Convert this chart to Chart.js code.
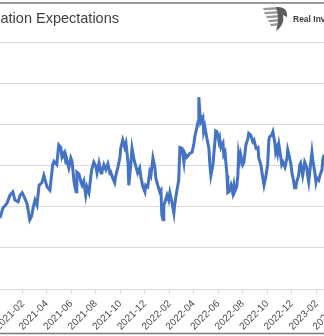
<!DOCTYPE html>
<html>
<head>
<meta charset="utf-8">
<script src="https://cdn.jsdelivr.net/npm/chart.js@4.4.1/dist/chart.umd.min.js"></script>
<style>
  html, body { margin: 0; padding: 0; background: #fff; }
  canvas { display: block; }
</style>
</head>
<body>
<canvas id="chart" width="324" height="336"></canvas>
<script>
// days counted from 2021-01-01
const baseDate = Date.UTC(2021, 0, 1);

const dayOffsets = [
  -26, -19, -9, -1, 6, 11, 19, 24, 29, 33,
  41, 48, 53, 56, 61, 66, 71, 78, 83, 91,
  98, 105, 108, 115, 120, 125, 128, 133, 138, 140,
  145, 150, 153, 158, 163, 165, 170, 175, 178, 182,
  187, 190, 195, 200, 202, 207, 212, 215, 220, 225,
  227, 232, 237, 242, 247, 249, 254, 259, 262, 267,
  272, 274, 279, 284, 287, 292, 294, 299, 302, 307,
  312, 316, 321, 324, 329, 334, 336, 341, 346, 349,
  354, 359, 361, 366, 371, 374, 376, 379, 381, 384,
  389, 393, 396, 401, 406, 408, 413, 418, 421, 426,
  431, 433, 438, 443, 446, 451, 456, 458, 463, 466,
  468, 471, 473, 478, 480, 483, 488, 493, 495, 498,
  503, 508, 510, 513, 518, 520, 523, 528, 530, 533,
  538, 540, 543, 548, 552, 555, 557, 562, 565, 567,
  570, 572, 577, 580, 585, 590, 592, 597, 602, 605,
  610, 615, 617, 622, 627, 630, 634, 639, 642, 644,
  649, 652, 657, 659, 662, 664, 667, 672, 674, 677,
  682, 687, 689, 692, 697, 699, 702, 706, 709, 711,
  716, 719, 721, 726, 729, 731, 736, 739, 741, 746,
  749, 751, 756, 759, 761, 766, 769, 774, 776, 779
];

const expectations = [
  1.86, 1.98, 2.04, 2.14, 2.18, 2.08, 2.06, 2.14, 2.17, 2.13,
  2.04, 1.84, 1.89, 1.98, 2.08, 2.02, 2.26, 2.29, 2.38, 2.24,
  2.20, 2.51, 2.55, 2.51, 2.75, 2.72, 2.60, 2.65, 2.53, 2.57,
  2.47, 2.59, 2.55, 2.30, 2.18, 2.42, 2.40, 2.30, 2.26, 2.31,
  2.14, 2.24, 2.17, 2.38, 2.45, 2.54, 2.49, 2.41, 2.53, 2.41,
  2.42, 2.51, 2.45, 2.52, 2.41, 2.42, 2.35, 2.29, 2.38, 2.48,
  2.60, 2.71, 2.81, 2.72, 2.77, 2.54, 2.26, 2.51, 2.71, 2.57,
  2.48, 2.41, 2.47, 2.36, 2.24, 2.18, 2.26, 2.24, 2.42, 2.38,
  2.59, 2.47, 2.35, 2.26, 2.18, 2.20, 1.90, 1.84, 2.02, 2.06,
  2.14, 2.08, 2.17, 2.06, 1.92, 2.02, 2.18, 2.32, 2.72, 2.71,
  2.54, 2.65, 2.60, 2.63, 2.65, 2.66, 2.77, 2.85, 2.96, 3.03,
  3.33, 3.11, 3.03, 3.08, 2.91, 2.97, 2.83, 2.71, 2.54, 2.38,
  2.51, 2.79, 2.92, 2.91, 2.79, 2.83, 2.72, 2.77, 2.63, 2.66,
  2.38, 2.17, 2.18, 2.26, 2.17, 2.26, 2.18, 2.24, 2.38, 2.65,
  2.57, 2.63, 2.51, 2.54, 2.75, 2.83, 2.89, 2.87, 2.79, 2.81,
  2.71, 2.72, 2.59, 2.51, 2.35, 2.26, 2.35, 2.51, 2.81, 2.85,
  2.87, 2.91, 2.77, 2.66, 2.71, 2.65, 2.75, 2.59, 2.51, 2.54,
  2.48, 2.59, 2.69, 2.63, 2.51, 2.42, 2.35, 2.23, 2.23, 2.30,
  2.38, 2.51, 2.53, 2.38, 2.47, 2.54, 2.48, 2.36, 2.30, 2.53,
  2.66, 2.57, 2.42, 2.30, 2.35, 2.32, 2.38, 2.45, 2.57, 2.63
];

const tickLabels = [
  '2020-12', '2021-02', '2021-04', '2021-06', '2021-08', '2021-10', '2021-12',
  '2022-02', '2022-04', '2022-06', '2022-08', '2022-10', '2022-12', '2023-02', '2023-04'
];

const titleText = 'Inflation Expectations';
const brandText = 'Real Investment Advice';

function daysFrom(label) {
  const [y, m] = label.split('-').map(Number);
  return (Date.UTC(y, m - 1, 1) - baseDate) / 86400000;
}
const tickDays = tickLabels.map(daysFrom);

function drawLogo(ctx, x, y) {
  // small grey eagle mark
  ctx.fillStyle = '#9a9a9a';
  [[0, 2, 15], [1, 6, 16], [3, 10, 14], [5, 14, 11], [7, 18, 8]].forEach(([dx, dy, w]) => {
    ctx.beginPath();
    ctx.moveTo(x + dx, y + dy);
    ctx.lineTo(x + dx + w, y + dy - 1);
    ctx.lineTo(x + dx + w, y + dy + 1.5);
    ctx.lineTo(x + dx + 1, y + dy + 2.2);
    ctx.closePath();
    ctx.fill();
  });
  ctx.fillStyle = '#5c5c5c';
  ctx.beginPath();
  ctx.moveTo(x + 13, y + 1);
  ctx.quadraticCurveTo(x + 25, y, x + 24, y + 11);
  ctx.lineTo(x + 20, y + 9);
  ctx.quadraticCurveTo(x + 22, y + 19, x + 13, y + 25);
  ctx.quadraticCurveTo(x + 17, y + 13, x + 13, y + 1);
  ctx.fill();
}

const framePlugin = {
  id: 'frame',
  beforeDraw(chart) {
    const ctx = chart.ctx;
    ctx.save();
    ctx.fillStyle = '#fff';
    ctx.fillRect(0, 0, chart.width, chart.height);
    ctx.font = '14.5px "Liberation Sans", Arial, sans-serif';
    ctx.fillStyle = '#404040';
    const cut = ctx.measureText('Infl').width;
    ctx.fillText(titleText, 0.5 - cut, 22.5);
    drawLogo(ctx, 263, 6);
    ctx.font = 'bold 8.5px "Liberation Sans", Arial, sans-serif';
    ctx.fillStyle = '#3a3a3a';
    ctx.fillText(brandText, 293, 22);
    ctx.restore();
  },
  afterDraw(chart) {
    const ctx = chart.ctx;
    ctx.save();
    ctx.strokeStyle = '#7a7a7a';
    ctx.lineWidth = 1.5;
    ctx.beginPath();
    ctx.moveTo(0, 3);
    ctx.lineTo(chart.width, 3);
    ctx.moveTo(0, 333.5);
    ctx.lineTo(chart.width, 333.5);
    ctx.stroke();
    ctx.restore();
  }
};

new Chart(document.getElementById('chart'), {
  type: 'line',
  data: {
    datasets: [{
      label: titleText,
      data: dayOffsets.map((d, i) => ({ x: d, y: expectations[i] })),
      borderColor: '#4472C4',
      borderWidth: 3,
      pointRadius: 0,
      tension: 0
    }]
  },
  options: {
    responsive: false,
    animation: false,
    devicePixelRatio: 1,
    layout: { padding: { top: 42, left: 0, right: 0, bottom: 0 } },
    plugins: {
      legend: { display: false },
      tooltip: { enabled: false }
    },
    scales: {
      x: {
        type: 'linear',
        min: -26,
        max: 779,
        afterBuildTicks: s => { s.ticks = tickDays.map(v => ({ value: v })); },
        afterFit: s => { s.height = 47; s.paddingLeft = 0; s.paddingRight = 0; },
        grid: { drawOnChartArea: false, drawTicks: true, tickLength: 5, color: '#d9d9d9' },
        border: { color: '#d9d9d9' },
        ticks: {
          autoSkip: false,
          minRotation: 45,
          maxRotation: 45,
          padding: 4,
          color: '#4a4a4a',
          font: { family: '"Liberation Sans", Arial, sans-serif', size: 10 },
          callback: v => tickLabels[tickDays.indexOf(v)]
        }
      },
      y: {
        min: 1,
        max: 4,
        afterFit: s => { s.width = 0; },
        grid: { color: '#d9d9d9', drawTicks: false },
        border: { display: false },
        ticks: { display: false, stepSize: 0.5 }
      }
    }
  },
  plugins: [framePlugin]
});
</script>
</body>
</html>
